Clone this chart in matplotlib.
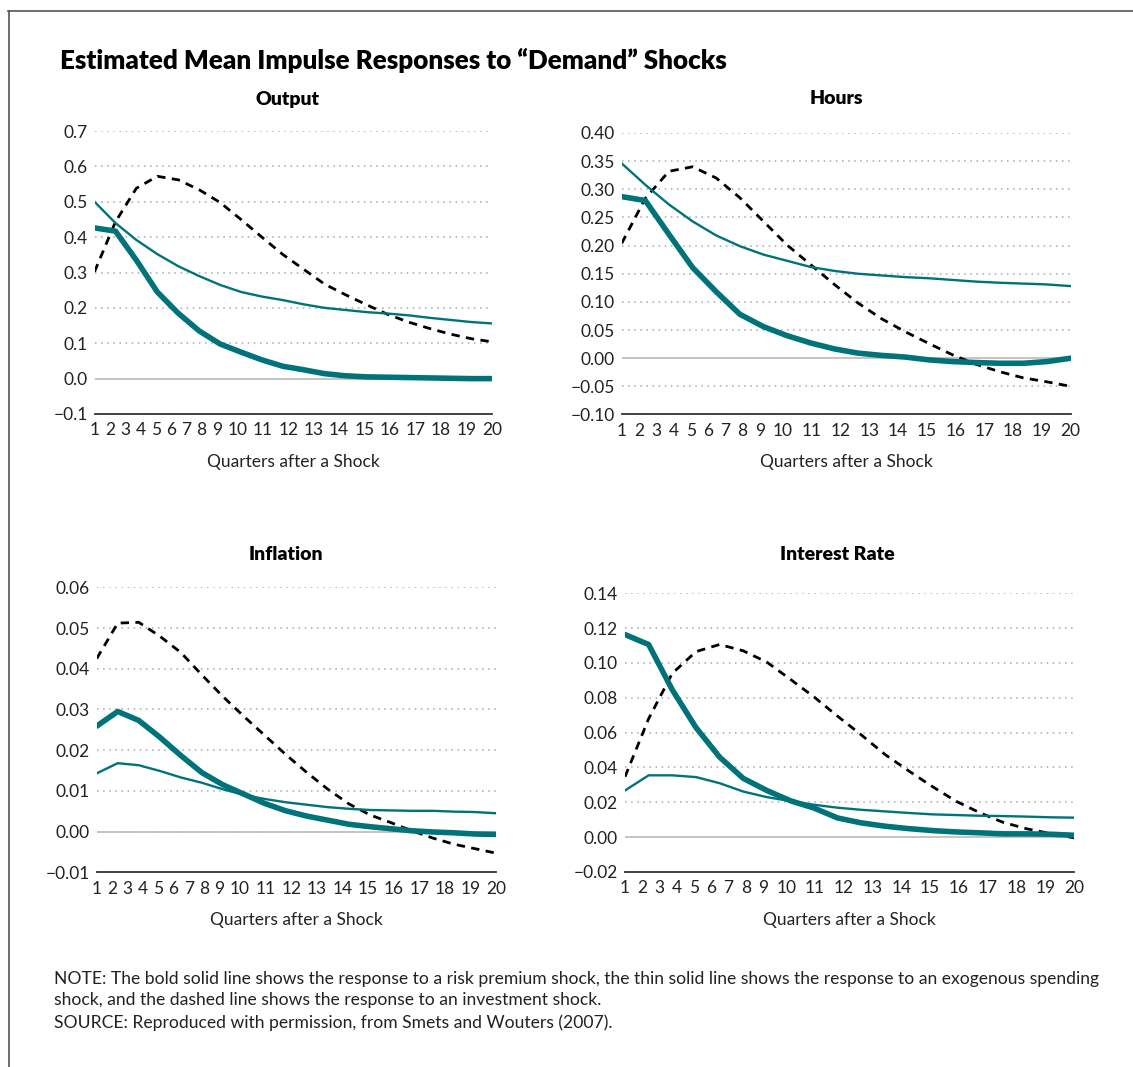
import matplotlib.pyplot as plt
from matplotlib.lines import Line2D

plt.rcParams['font.family'] = ['Lato', 'DejaVu Sans']

quarters = list(range(1, 21))
tick_labels = [str(q) for q in quarters]

# bold = risk premium shock, thin = exogenous spending shock, dashed = investment shock
output_risk = [0.426, 0.417, 0.335, 0.245, 0.185, 0.135, 0.098, 0.075, 0.053, 0.035,
               0.025, 0.014, 0.008, 0.005, 0.004, 0.003, 0.002, 0.001, 0.0, 0.0]
output_spend = [0.50, 0.44, 0.392, 0.352, 0.318, 0.29, 0.265, 0.245, 0.232, 0.222,
                0.21, 0.20, 0.194, 0.188, 0.184, 0.179, 0.172, 0.166, 0.16, 0.156]
output_invest = [0.302, 0.443, 0.538, 0.572, 0.562, 0.534, 0.498, 0.45, 0.40, 0.351,
                 0.309, 0.267, 0.237, 0.209, 0.182, 0.16, 0.142, 0.126, 0.113, 0.104]

hours_risk = [0.287, 0.280, 0.220, 0.161, 0.118, 0.078, 0.056, 0.040, 0.027, 0.0165,
              0.009, 0.005, 0.002, -0.003, -0.006, -0.0077, -0.009, -0.009, -0.006, 0.0]
hours_spend = [0.346, 0.308, 0.273, 0.243, 0.218, 0.199, 0.184, 0.173, 0.162, 0.155,
               0.150, 0.147, 0.144, 0.142, 0.139, 0.136, 0.134, 0.1325, 0.131, 0.128]
hours_invest = [0.204, 0.284, 0.332, 0.340, 0.320, 0.285, 0.243, 0.201, 0.166, 0.131,
                0.098, 0.070, 0.047, 0.026, 0.006, -0.011, -0.024, -0.035, -0.042, -0.050]

infl_risk = [0.0259, 0.0295, 0.0273, 0.0232, 0.0187, 0.0145, 0.0115, 0.0092, 0.0069, 0.0051,
             0.0038, 0.0028, 0.0018, 0.0012, 0.0007, 0.0002, -0.0001, -0.0003, -0.0006, -0.0007]
infl_spend = [0.0143, 0.0168, 0.0163, 0.0149, 0.0133, 0.012, 0.0104, 0.009, 0.008, 0.0072,
              0.0066, 0.006, 0.0056, 0.0053, 0.0052, 0.0051, 0.0051, 0.0049, 0.0048, 0.0045]
infl_invest = [0.0425, 0.0512, 0.0514, 0.048, 0.044, 0.0385, 0.0332, 0.0283, 0.0236, 0.0189,
               0.0145, 0.0104, 0.0068, 0.0041, 0.0022, 0.0002, -0.0016, -0.0031, -0.0042, -0.0053]

rate_risk = [0.1163, 0.1106, 0.0846, 0.063, 0.046, 0.0338, 0.0268, 0.0209, 0.0167, 0.011,
             0.0082, 0.0063, 0.0049, 0.0038, 0.003, 0.0025, 0.0019, 0.0019, 0.0017, 0.0011]
rate_spend = [0.0268, 0.0355, 0.0355, 0.0345, 0.031, 0.0262, 0.023, 0.0207, 0.0186, 0.0169,
              0.0157, 0.0148, 0.0139, 0.0131, 0.0127, 0.0123, 0.0121, 0.0118, 0.0114, 0.0112]
rate_invest = [0.0347, 0.068, 0.094, 0.1065, 0.1106, 0.107, 0.1005, 0.0906, 0.0805, 0.0694,
               0.0587, 0.0475, 0.0381, 0.0291, 0.0207, 0.0141, 0.0085, 0.0048, 0.0021, -0.0004]

output_ticks = [-0.1, 0.0, 0.1, 0.2, 0.3, 0.4, 0.5, 0.6, 0.7]
hours_ticks = [-0.10, -0.05, 0.0, 0.05, 0.10, 0.15, 0.20, 0.25, 0.30, 0.35, 0.40]
infl_ticks = [-0.01, 0.0, 0.01, 0.02, 0.03, 0.04, 0.05, 0.06]
rate_ticks = [-0.02, 0.0, 0.02, 0.04, 0.06, 0.08, 0.10, 0.12, 0.14]

TEAL = '#00737a'

# x tick labels are set like running text: tight for one digit, wider for two
units = [0.0]
for a, b in zip(tick_labels[:-1], tick_labels[1:]):
    units.append(units[-1] + (len(a) + len(b)) / 2 + 0.5)
tick_pos = [1 + u * 19 / units[-1] for u in units]

fig = plt.figure(figsize=(11.33, 10.67), dpi=100)
W, H = 1133, 1067

panels = [
    ('Output', (94.5, 131, 492, 414), output_ticks, 1,
     output_risk, output_spend, output_invest, (288, 99)),
    ('Hours', (621.7, 133, 1070.7, 414.5), hours_ticks, 2,
     hours_risk, hours_spend, hours_invest, (836, 99)),
    ('Inflation', (96.7, 587.3, 496, 872.3), infl_ticks, 2,
     infl_risk, infl_spend, infl_invest, (286, 555)),
    ('Interest Rate', (625, 593.3, 1074, 872), rate_ticks, 2,
     rate_risk, rate_spend, rate_invest, (837, 554)),
]

for name, (x0, y0, x1, y1), yticks, dec, risk, spend, invest, tpos in panels:
    ax = fig.add_axes([x0 / W, 1 - y1 / H, (x1 - x0) / W, (y1 - y0) / H])
    ax.set_xlim(1, 20)
    ax.set_ylim(yticks[0], yticks[-1])
    ax.set_yticks(yticks)
    ax.set_yticklabels([f'{v:.{dec}f}'.replace('-', '\u2212') for v in yticks])
    ax.set_xticks(tick_pos)
    ax.set_xticklabels(tick_labels)
    ax.tick_params(length=0, labelsize=12.5, colors='#222222')
    ax.tick_params(axis='y', pad=5)
    ax.tick_params(axis='x', pad=6)
    for s in ['top', 'right', 'left']:
        ax.spines[s].set_visible(False)
    ax.spines['bottom'].set_color('#333333')
    ax.spines['bottom'].set_linewidth(1.3)
    ax.yaxis.grid(True, linestyle=(0, (1, 3)), color='#a8a8a8', linewidth=1.1)
    ax.set_axisbelow(True)
    ax.axhline(0, color='#c4c4c4', linewidth=1.4, zorder=1)

    ax.plot(quarters, invest, color='black', linewidth=2.0, dashes=(3, 2.3), zorder=3)
    ax.plot(quarters, spend, color=TEAL, linewidth=1.7, zorder=4)
    ax.plot(quarters, risk, color=TEAL, linewidth=4.0, solid_capstyle='round', zorder=5)

    ax.set_xlabel('Quarters after a Shock', fontsize=12.5, labelpad=11, color='#222222')
    fig.text(tpos[0] / W, 1 - tpos[1] / H, name, ha='center', va='center',
             fontsize=14, fontweight='heavy')

fig.text(60 / W, 1 - 60 / H, 'Estimated Mean Impulse Responses to \u201cDemand\u201d Shocks',
         ha='left', va='center', fontsize=18.7, fontweight='heavy')

note = ('NOTE: The bold solid line shows the response to a risk premium shock, the thin solid line '
        'shows the response to an exogenous spending\n'
        'shock, and the dashed line shows the response to an investment shock.\n'
        'SOURCE: Reproduced with permission, from Smets and Wouters (2007).')
fig.text(54 / W, 1 - 971 / H, note, ha='left', va='top', fontsize=12.6,
         linespacing=1.42, color='#222222')

# frame lines (top and left)
fig.add_artist(Line2D([8.5 / W, 8.5 / W], [1 - 10.5 / H, 0], color='#555555',
                      linewidth=1.2, transform=fig.transFigure))
fig.add_artist(Line2D([8 / W, 1], [1 - 10.5 / H, 1 - 10.5 / H], color='#555555',
                      linewidth=1.2, transform=fig.transFigure))

fig.savefig('out.png', dpi=100)
